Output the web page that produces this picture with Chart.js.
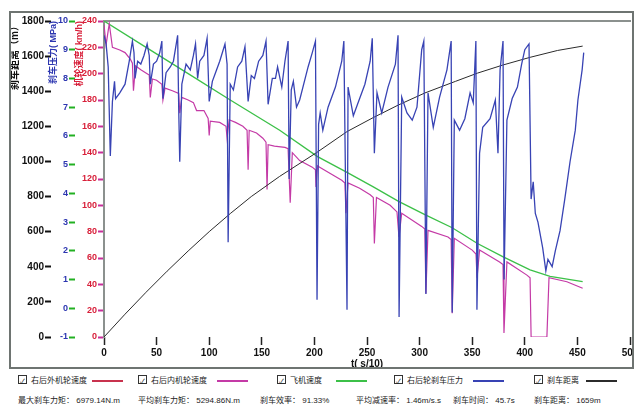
<!DOCTYPE html>
<html>
<head>
<meta charset="utf-8">
<script src="https://cdn.jsdelivr.net/npm/chart.js@4.4.1/dist/chart.umd.min.js"></script>
<style>
  body { margin: 0; width: 636px; height: 408px; background: #fff; position: relative; overflow: hidden;
         font-family: "Liberation Sans", "Noto Sans CJK SC", sans-serif; }
  #frame { position: absolute; left: 9px; top: 11px; width: 625px; height: 358px;
           border: 2px solid #6e7471; box-sizing: border-box; }
  #brakeChart { position: absolute; left: 0; top: 0; }
  .row { position: absolute; left: 0; width: 636px; height: 12px; font-size: 8px; color: #222; }
  .row span { position: absolute; top: 0; white-space: nowrap; line-height: 12px; }
  .box { display: inline-block; width: 7px; height: 7px; border: 1px solid #333; font-size: 7px;
         line-height: 7px; text-align: center; vertical-align: -1px; margin-right: 4px; }
  .row span.swatch { top: 5px; height: 1.5px; width: 31px; }
</style>
</head>
<body>
<div id="frame"><canvas id="brakeChart" width="621" height="354"></canvas></div>
<div class="row" id="legendRow" style="top:375px"></div>
<div class="row" id="statsRow" style="top:395px"></div>
<script>
const seriesNames = ['右后外机轮速度', '右后内机轮速度', '飞机速度', '右后轮刹车压力', '刹车距离'];
const seriesColors = ['#c8324e', '#c43aa6', '#3cc048', '#3843b4', '#2b2b2b'];

// aircraft speed (km/h) over t (s/10)
const aircraftTime  = [0, 40, 80, 120, 167, 203, 231, 256, 280, 305, 331, 355, 379, 405, 424, 455];
const aircraftSpeed = [240, 220, 200, 180, 157, 137, 125, 114, 103, 93, 83, 71, 61, 51, 46, 42];

// right rear inner wheel speed (km/h)
const wheelTime = [0, 2, 5, 8, 15, 20, 25, 27, 28, 30,
                   35, 41, 43, 44, 46, 50, 55, 56, 58, 65,
                   71, 72, 74, 80, 85, 88, 95, 99, 100, 101,
                   110, 116, 117, 119, 125, 132, 136, 137, 138, 145,
                   151, 154, 155, 156, 162, 172, 175, 177, 179, 186,
                   198, 201, 201.5, 203, 205, 226, 229, 230, 232, 243,
                   253, 256, 257, 259, 272, 278.5, 280.4, 283, 302, 305,
                   306, 308, 327, 330, 331, 333, 350, 353.6, 354.6, 357,
                   376, 379.3, 380.2, 383, 402, 405, 406, 421, 423, 440,
                   455];
const wheelSpeed = [237, 222, 238, 220, 218, 216, 211, 208, 187, 206,
                    203, 200, 199, 182, 196, 195, 192, 180, 189, 187,
                    185, 170, 182, 180, 178, 172, 172, 166, 153, 164,
                    163, 160, 151, 165, 163, 160, 157, 127, 157, 155,
                    151, 148, 112, 146, 145, 144, 143, 102, 140, 134,
                    129, 127, 114, 130, 129, 119, 117, 94, 117, 113,
                    108, 106, 71, 106, 100, 95, 76, 94, 84, 82,
                    33, 81, 76, 74, 18, 75, 66, 63, 45, 66,
                    57, 55, 3, 57, 47, 45, 0, 0, 45, 42,
                    37];

// right rear brake pressure (MPa)
const pressureTime = [0, 2, 4, 6, 8, 10, 11, 15, 20, 24,
                      27, 28.5, 29.5, 32, 35, 38, 41, 43, 44, 47,
                      50, 53, 55, 56, 59, 63, 66, 70, 71, 72,
                      74, 78, 82, 85, 87, 89, 91, 95, 98, 100,
                      103, 106, 110, 115, 117, 118, 120, 123, 127, 131,
                      134, 137, 140, 143, 147, 151, 154, 156, 160, 163,
                      165, 169, 172, 175, 176, 178, 180, 183, 186, 194,
                      198, 201, 202.5, 204, 205.5, 208, 213, 220, 226, 228,
                      231, 232, 237, 241, 248, 253, 255, 257, 259.5, 264,
                      270, 277, 279.5, 280.5, 283, 288, 293, 297.5, 302, 304,
                      306, 308, 313, 319, 326, 330, 331, 333, 338, 343,
                      348, 351, 353.5, 354.5, 357, 360, 367, 372, 374.5, 376.5,
                      379.3, 380.3, 383, 388, 393, 397, 400, 404, 406, 408,
                      410, 412.5, 417, 420, 422, 426, 429, 433.5, 438, 443,
                      448, 450.5, 454.5, 456];
const pressureMPa = [9.5, 9.2, 8.4, 5.3, 7.2, 7.9, 7.3, 7.5, 7.8, 8.6,
                     9.3, 8.9, 8.0, 8.6, 8.5, 8.8, 9.2, 8.8, 7.8, 8.5,
                     8.6, 8.9, 9.3, 7.3, 8.2, 8.4, 8.6, 9.5, 7.0, 5.1,
                     7.8, 8.5, 8.3, 8.8, 9.2, 8.0, 8.6, 8.8, 9.4, 7.2,
                     7.9, 8.2, 8.6, 9.2, 8.5, 2.3, 7.8, 7.6, 8.4, 8.6,
                     9.1, 7.2, 8.1, 8.0, 8.6, 8.8, 9.3, 7.1, 8.0, 8.0,
                     8.4, 7.7, 8.6, 9.3, 4.5, 7.6, 7.9, 7.0, 7.25, 8.4,
                     8.9, 9.3, 0.3, 6.4, 6.8, 6.2, 7.0, 7.7, 8.6, 9.3,
                     -0.05, 7.7, 6.7, 7.1, 7.8, 8.6, 9.4, 5.4, 7.5, 6.8,
                     7.7, 8.5, 9.5, -0.3, 7.35, 6.8, 6.55, 7.0, 9.0, 9.3,
                     0.5, 7.5, 6.3, 7.35, 8.3, 9.3, -0.15, 6.55, 6.2, 6.6,
                     7.5, 7.15, 9.3, -0.05, 5.4, 6.3, 6.6, 7.25, 5.4, 8.3,
                     9.3, 1.0, 6.55, 7.3, 7.7, 8.5, 9.0, 9.2, 3.8, 4.4,
                     3.3, 3.0, 2.1, 1.3, 1.7, 1.45, 2.0, 2.7, 3.8, 5.1,
                     6.2, 7.25, 8.3, 8.9];

// braking distance (m)
const distanceTime = [0, 20, 40, 60, 80, 100, 120, 140, 167, 202, 231, 256, 280, 305, 334, 355, 379, 405, 431, 455];
const distanceM    = [0, 130, 255, 375, 490, 600, 703, 800, 915, 1050, 1170, 1250, 1322, 1390, 1456, 1503, 1549, 1593, 1632, 1657];

const statNames  = ['最大刹车力矩：', '平均刹车力矩：', '刹车效率：', '平均减速率：', '刹车时间：', '刹车距离：'];
const statValues = ['6979.14N.m', '5294.86N.m', '91.33%', '1.46m/s.s', '45.7s', '1659m'];

const legendLeft = [18, 138, 277, 394, 534];
const swatchLeft = [92, 217, 336, 473, 586];
const statLeft = [18, 138, 260, 356, 453, 534];

const FONT = '"Liberation Sans", "Noto Sans CJK SC", sans-serif';

function toPoints(xs, ys) {
  return xs.map((x, i) => ({ x: x, y: ys[i] }));
}

function leftAxis(min, max, step, width, weight, labelColor, labelSize, tickColor, title, titleColor, titleSize, titleShift) {
  return {
    type: 'linear', position: 'left', min: min, max: max, weight: weight,
    ticks: { stepSize: step, autoSkip: false, padding: 1, color: labelColor,
             callback: v => String(v),
             font: { family: FONT, size: labelSize, weight: 'bold' } },
    grid: { drawOnChartArea: false, tickLength: 6, tickWidth: 2, tickColor: tickColor },
    border: { display: false },
    title: { display: true, text: title, align: 'end', color: titleColor,
             padding: { top: titleShift, bottom: 0 },
             font: { family: FONT, size: titleSize, weight: 'bold' } },
    afterFit: s => { s.width = width; s.paddingTop = 0; s.paddingBottom = 0; }
  };
}

function line(idx, data, axis, width) {
  return { label: seriesNames[idx], data: data, yAxisID: axis, borderColor: seriesColors[idx],
           borderWidth: width, pointRadius: 0, tension: 0, fill: false };
}

const speedAxis = leftAxis(0, 240, 20, 29, 1, '#d8203a', 9, '#c8309a', '机轮速度( km/h)', '#d8203a', 9, -1);
speedAxis.border = { display: true, color: '#8b918e', width: 2 };

new Chart(document.getElementById('brakeChart').getContext('2d'), {
  type: 'line',
  data: {
    datasets: [
      line(3, toPoints(pressureTime, pressureMPa), 'pressure', 1.3),
      line(4, toPoints(distanceTime, distanceM), 'distance', 1),
      line(1, toPoints(wheelTime, wheelSpeed), 'speed', 1.2),
      line(2, toPoints(aircraftTime, aircraftSpeed), 'speed', 1.3)
    ]
  },
  options: {
    responsive: false,
    animation: false,
    layout: { padding: { top: 8, right: 2, left: 0, bottom: 0 } },
    plugins: { legend: { display: false }, tooltip: { enabled: false } },
    scales: {
      x: {
        type: 'linear', position: 'bottom', min: 0, max: 500,
        ticks: { stepSize: 50, autoSkip: false, maxRotation: 0, padding: 2, color: '#111',
                 font: { family: FONT, size: 10, weight: 'bold' } },
        grid: { drawOnChartArea: false, tickLength: 8, tickWidth: 1.5, tickColor: '#222' },
        border: { display: false },
        title: { display: true, text: 't( s/10)', color: '#111', padding: { top: 0, bottom: -3 },
                 font: { family: FONT, size: 10, weight: 'bold' } },
        afterFit: s => { s.height = 30; s.paddingLeft = 0; s.paddingRight = 0; }
      },
      xTop: {
        type: 'linear', position: 'top', min: 0, max: 500,
        ticks: { display: false }, grid: { display: false },
        border: { display: true, color: '#8b918e', width: 2 },
        afterFit: s => { s.height = 0; }
      },
      distance: leftAxis(0, 1800, 200, 40, 3, '#111', 10, '#111', '刹车距离（m）', '#111', 10, -2),
      pressure: leftAxis(-1, 10, 1, 24, 2, '#2c36b0', 9, '#22b022', '刹车压力( MPa)', '#2c36b0', 9, -3),
      speed: speedAxis
    }
  }
});

function buildLegend() {
  const row = document.getElementById('legendRow');
  seriesNames.forEach((name, i) => {
    const item = document.createElement('span');
    item.style.left = legendLeft[i] + 'px';
    item.innerHTML = '<span class="box" style="position:static">✓</span>' + name;
    row.appendChild(item);
    const sw = document.createElement('span');
    sw.className = 'swatch';
    sw.style.left = swatchLeft[i] + 'px';
    sw.style.background = seriesColors[i];
    row.appendChild(sw);
  });
}

function buildStats() {
  const row = document.getElementById('statsRow');
  statNames.forEach((name, i) => {
    const item = document.createElement('span');
    item.style.left = statLeft[i] + 'px';
    item.textContent = name + ' ' + statValues[i];
    row.appendChild(item);
  });
}

buildLegend();
buildStats();
</script>
</body>
</html>
